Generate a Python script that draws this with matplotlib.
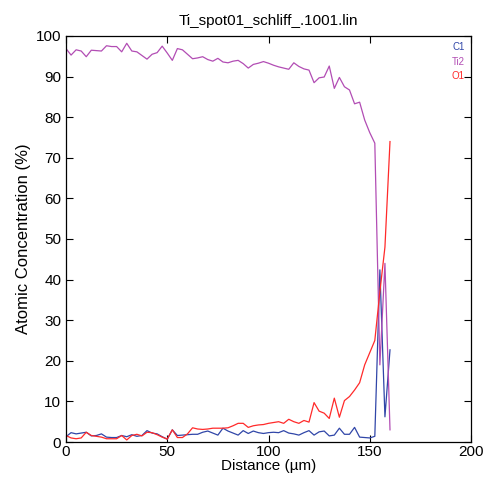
import matplotlib
matplotlib.use("Agg")
import matplotlib.pyplot as plt
import numpy as np

plt.rcParams['font.family'] = ['Liberation Sans', 'DejaVu Sans']

# Line-scan sample positions (µm)
distance = [i * 2.5 for i in range(65)]

# Atomic concentrations (%) along the line scan
c1 = [1.3, 2.3, 2.0, 2.2, 2.4, 1.5, 1.6, 2.0, 1.2, 1.1,
      1.1, 1.6, 1.3, 1.8, 1.4, 1.6, 2.8, 2.2, 2.0, 1.3,
      0.7, 3.0, 1.6, 1.7, 1.8, 1.9, 1.9, 2.4, 2.7, 2.2,
      1.7, 3.4, 2.7, 2.2, 1.7, 2.8, 2.1, 2.7, 2.3, 2.1,
      2.3, 2.4, 2.3, 2.8, 2.2, 2.0, 1.7, 2.3, 2.8, 1.7,
      2.5, 2.7, 1.5, 1.7, 3.4, 1.9, 1.9, 3.6, 1.2, 1.1,
      1.0, 1.4, 42.4, 6.2, 22.7]

ti2 = [96.9, 95.3, 96.6, 96.3, 94.9, 96.5, 96.4, 96.3, 97.6, 97.4,
       97.4, 96.1, 98.2, 96.3, 96.1, 95.2, 94.3, 95.5, 95.9, 97.5,
       95.8, 94.0, 96.9, 96.6, 95.5, 94.4, 94.6, 94.9, 94.2, 93.8,
       94.5, 93.6, 93.4, 93.8, 94.0, 93.2, 92.1, 93.0, 93.3, 93.7,
       93.3, 92.8, 92.4, 92.1, 91.8, 93.4, 92.5, 91.9, 91.6, 88.5,
       89.7, 89.9, 92.6, 87.1, 89.8, 87.5, 86.7, 83.3, 83.7, 79.3,
       76.2, 73.6, 19.0, 44.0, 3.0]

o1 = [1.6, 1.0, 0.8, 1.0, 2.4, 1.6, 1.4, 1.2, 0.8, 0.8,
      0.8, 1.6, 0.5, 1.6, 1.9, 1.5, 2.4, 2.3, 1.8, 1.2,
      0.7, 3.0, 1.1, 1.1, 2.0, 3.5, 3.2, 3.1, 3.2, 3.4,
      3.4, 3.4, 3.5, 4.0, 4.6, 4.6, 3.6, 4.0, 4.2, 4.3,
      4.6, 4.8, 5.0, 4.6, 5.6, 5.0, 4.6, 5.3, 4.9, 9.7,
      7.6, 7.1, 5.8, 10.8, 6.1, 10.2, 11.2, 12.8, 14.6, 19.0,
      22.0, 25.0, 37.0, 48.0, 74.0]

series = [("C1", c1, "#3046a8"), ("Ti2", ti2, "#b24db4"), ("O1", o1, "#ff2a2a")]

fig = plt.figure(figsize=(4.87, 4.83), dpi=100)
ax = fig.add_axes([66 / 487, 1 - 442 / 483, 405 / 487, 406 / 483])

for name, vals, col in series:
    ax.plot(distance, vals, color=col, lw=0.9, label=name)

ax.set_xlim(0, 200)
ax.set_ylim(0, 100)
ax.set_xticks([0, 50, 100, 150, 200])
ax.set_yticks(np.arange(0, 101, 10))
ax.tick_params(direction='in', top=True, right=True, labelsize=11,
               length=5, width=0.8)
ax.tick_params(axis='x', pad=2.5)
ax.tick_params(axis='y', pad=3.5)
for sp in ax.spines.values():
    sp.set_linewidth(0.9)

ax.set_xlabel("Distance (µm)", fontsize=11, labelpad=0)
ax.set_ylabel("Atomic Concentration (%)", fontsize=12, labelpad=3)
ax.set_title("Ti_spot01_schliff_.1001.lin", fontsize=11, pad=8)

leg = ax.legend(loc='upper right', frameon=False, handlelength=0,
                handletextpad=0, fontsize=7, labelcolor='linecolor',
                borderaxespad=0.25, labelspacing=0.45, markerfirst=False)
for h in leg.legend_handles:
    h.set_visible(False)
for t in leg.get_texts():
    t.set_ha('right')

fig.savefig("out.png", dpi=100)
